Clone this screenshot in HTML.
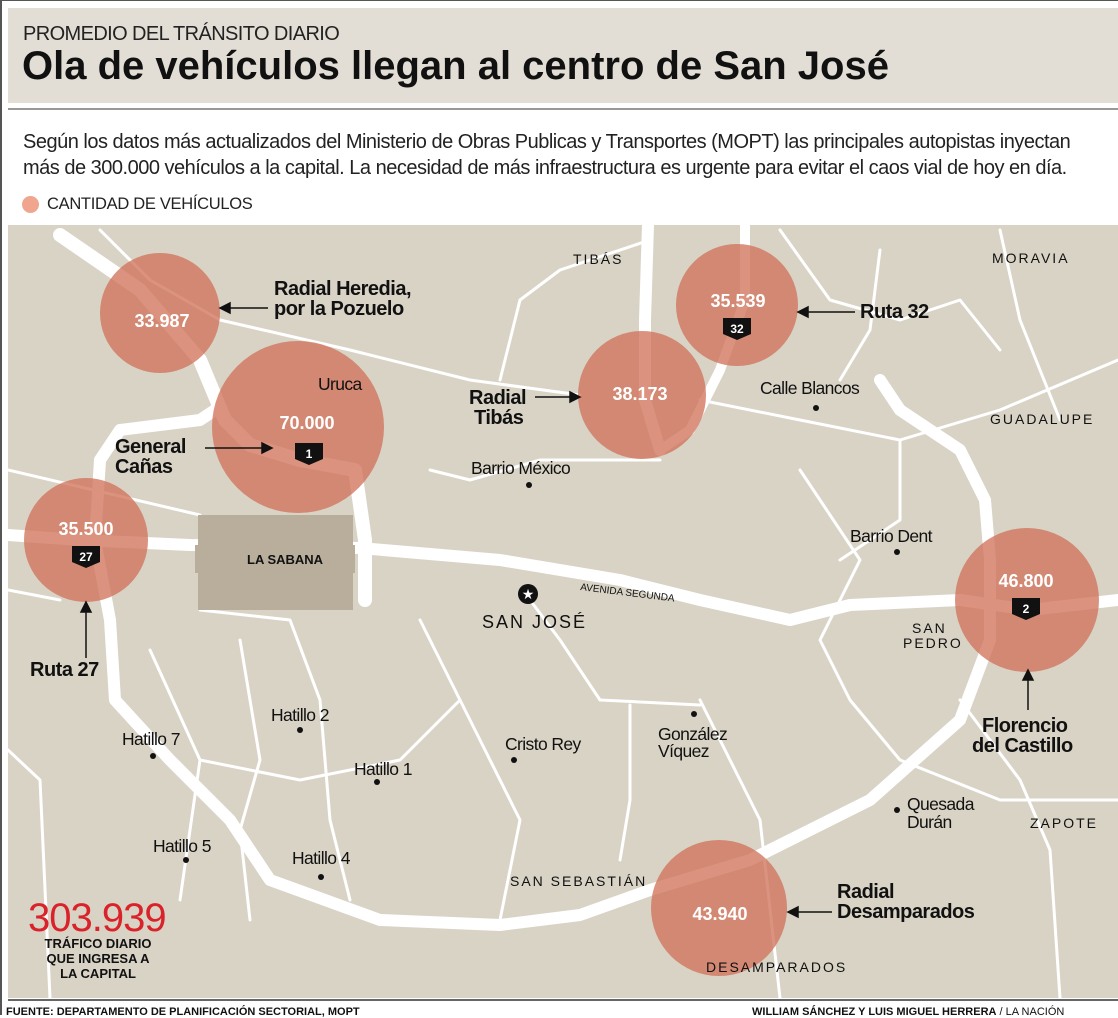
<!DOCTYPE html>
<html><head><meta charset="utf-8"><style>
html,body{margin:0;padding:0;background:#fff;}
body{width:1118px;height:1015px;position:relative;overflow:hidden;font-family:"Liberation Sans",sans-serif;}
.t{position:absolute;white-space:nowrap;}
</style></head><body>
<div style="position:absolute;left:0;top:0;width:1118px;height:1px;background:#555"></div>
<div style="position:absolute;left:0;top:0;width:2px;height:1015px;background:#555"></div>
<div style="position:absolute;left:8px;top:8px;width:1110px;height:95px;background:#e3ded5"></div>
<div style="position:absolute;left:8px;top:108px;width:1110px;height:2px;background:#999"></div>
<div class="t" style="left:23px;top:23px;font-size:20px;color:#222;letter-spacing:-0.6px">PROMEDIO DEL TRÁNSITO DIARIO</div>
<div class="t" style="left:22px;top:44px;font-size:40px;font-weight:bold;color:#111;letter-spacing:0px">Ola de vehículos llegan al centro de San José</div>
<div class="t" style="left:23px;top:129px;font-size:20px;color:#222;line-height:26px;letter-spacing:-0.5px">Según los datos más actualizados del Ministerio de Obras Publicas y Transportes (MOPT) las principales autopistas inyectan<br>más de 300.000 vehículos a la capital. La necesidad de más infraestructura es urgente para evitar el caos vial de hoy en día.</div>
<div style="position:absolute;left:22px;top:196px;width:17px;height:17px;border-radius:50%;background:#f0a58e"></div>
<div class="t" style="left:47px;top:195px;font-size:16.5px;color:#222;letter-spacing:-0.3px">CANTIDAD DE VEHÍCULOS</div>
<svg style="position:absolute;left:8px;top:225px" width="1110" height="773" viewBox="8 225 1110 773">
<rect x="8" y="225" width="1110" height="773" fill="#d9d3c6"/>
<g fill="none" stroke="#fff" stroke-width="3" stroke-linecap="round" stroke-linejoin="round">
<path d="M8 470 L200 515"/><path d="M100 230 L150 280 L220 320 L350 350 L470 380 L580 395"/>
<path d="M520 300 L560 270 L650 240"/><path d="M520 300 L500 380"/><path d="M700 400 L800 420 L900 440 L1000 410 L1118 360"/>
<path d="M780 230 L830 300 L900 320 L960 300 L1000 350"/><path d="M900 440 L900 520 L840 560"/>
<path d="M800 470 L860 560 L820 640 L850 700 L900 760 L1000 800 L1118 800"/>
<path d="M1000 230 L1020 320 L1060 420"/><path d="M960 700 L1020 780 L1050 850 L1060 998"/>
<path d="M200 610 L290 620 L320 700 L330 820 L350 900"/><path d="M240 640 L260 760 L240 830 L250 920"/>
<path d="M420 620 L460 700 L520 820 L500 920"/><path d="M630 705 L630 800 L620 860"/>
<path d="M700 700 L760 820 L780 998"/><path d="M530 600 L560 640 L600 700 L700 705"/>
<path d="M8 750 L40 780 L50 998"/><path d="M150 650 L200 760 L180 900"/>
<path d="M430 470 L470 480 L540 460 L660 460"/><path d="M880 250 L870 330 L840 380"/>
<path d="M200 760 L300 780 L400 760 L460 700"/><path d="M8 590 L60 600"/>
</g>
<g fill="none" stroke="#fff" stroke-linecap="round" stroke-linejoin="round">
<path stroke-width="14" d="M60 235 L140 290 L200 360 L225 420 L250 445 L300 460 L355 470 L365 540 L365 600"/>
<path stroke-width="12" d="M8 535 L80 540 L190 545 L360 548 L500 560 L620 580 L700 600 L790 620 L850 605 L960 600 L1030 610 L1118 600"/>
<path stroke-width="12" d="M100 460 L120 430 L200 420 L215 410"/>
<path stroke-width="12" d="M100 460 L95 540 L110 620 L115 700 L170 760 L230 820 L270 880 L380 920 L500 925 L580 915 L650 890 L750 860 L870 800 L960 720 L990 640 L990 560 L985 500 L960 450 L900 410 L880 380"/>
<path stroke-width="12" d="M648 225 L645 320 L645 400 L660 450"/>
<path stroke-width="10" d="M745 225 L745 300 L720 370 L690 430 L660 450"/>
<path stroke-width="8" d="M80 540 L200 545"/>
</g>
<rect x="198" y="515" width="155" height="95" fill="#b9ae9c"/>
<rect x="195" y="545" width="160" height="28" fill="#b9ae9c"/>
<g fill="#cf6f55" fill-opacity="0.75">
<circle cx="160" cy="313" r="60"/><circle cx="298" cy="427" r="86"/><circle cx="86" cy="540" r="62"/>
<circle cx="642" cy="395" r="64"/><circle cx="737" cy="305" r="61"/><circle cx="1027" cy="600" r="72"/>
<circle cx="719" cy="908" r="68"/>
</g>
<g font-family="Liberation Sans,sans-serif" font-weight="bold" fill="#fff" font-size="18" text-anchor="middle">
<text x="162" y="327">33.987</text><text x="307" y="429">70.000</text><text x="86" y="535">35.500</text>
<text x="640" y="400">38.173</text><text x="738" y="307">35.539</text><text x="1026" y="587">46.800</text><text x="720" y="920">43.940</text>
</g>
<g fill="#111" font-family="Liberation Sans,sans-serif" font-weight="bold" font-size="12" text-anchor="middle">
<path d="M295 443h28v16l-14 6l-14-6z"/><path d="M72 546h28v16l-14 6l-14-6z"/><path d="M723 318h28v16l-14 6l-14-6z"/><path d="M1012 598h28v16l-14 6l-14-6z"/>
<text x="309" y="458" fill="#fff">1</text><text x="86" y="561" fill="#fff">27</text><text x="737" y="333" fill="#fff">32</text><text x="1026" y="613" fill="#fff">2</text>
</g>
<g stroke="#111" stroke-width="1.5" fill="#111">
<line x1="228" y1="308" x2="268" y2="308"/><path d="M220 308l10-5v10z"/>
<line x1="205" y1="448" x2="262" y2="448"/><path d="M272 448l-10-5v10z"/>
<line x1="86" y1="658" x2="86" y2="612"/><path d="M86 602l-5 10h10z"/>
<line x1="535" y1="397" x2="570" y2="397"/><path d="M580 397l-10-5v10z"/>
<line x1="808" y1="312" x2="855" y2="312"/><path d="M798 312l10-5v10z"/>
<line x1="1028" y1="710" x2="1028" y2="680"/><path d="M1028 670l-5 10h10z"/>
<line x1="798" y1="912" x2="832" y2="912"/><path d="M788 912l10-5v10z"/>
</g>
<g fill="#111"><circle cx="529" cy="485" r="3"/><circle cx="816" cy="408" r="3"/><circle cx="897" cy="552" r="3"/><circle cx="300" cy="730" r="3"/><circle cx="153" cy="756" r="3"/><circle cx="377" cy="782" r="3"/><circle cx="514" cy="760" r="3"/><circle cx="694" cy="714" r="3"/><circle cx="897" cy="810" r="3"/><circle cx="186" cy="860" r="3"/><circle cx="321" cy="877" r="3"/>
<circle cx="528" cy="594" r="10"/></g>
<text x="528" y="599" font-size="14" fill="#fff" text-anchor="middle">★</text>
<g font-family="Liberation Sans,sans-serif" fill="#111" font-size="17.5" letter-spacing="-0.6">
<text x="318" y="390">Uruca</text><text x="471" y="474">Barrio México</text><text x="760" y="394">Calle Blancos</text><text x="850" y="542">Barrio Dent</text>
<text x="271" y="721">Hatillo 2</text><text x="122" y="745">Hatillo 7</text><text x="354" y="775">Hatillo 1</text><text x="505" y="750">Cristo Rey</text>
<text x="658" y="740">González</text><text x="658" y="757">Víquez</text><text x="907" y="810">Quesada</text><text x="907" y="828">Durán</text>
<text x="153" y="852">Hatillo 5</text><text x="292" y="864">Hatillo 4</text>
</g>
<g font-family="Liberation Sans,sans-serif" fill="#111" font-size="14" letter-spacing="2">
<text x="573" y="264">TIBÁS</text><text x="992" y="263">MORAVIA</text><text x="990" y="424">GUADALUPE</text>
<text x="912" y="633">SAN</text><text x="903" y="648">PEDRO</text><text x="1030" y="828">ZAPOTE</text>
<text x="510" y="886">SAN SEBASTIÁN</text><text x="706" y="972">DESAMPARADOS</text>
<text x="482" y="628" font-size="18">SAN JOSÉ</text>
</g>
<text x="247" y="564" font-family="Liberation Sans,sans-serif" font-weight="bold" font-size="13" fill="#111">LA SABANA</text>
<text x="580" y="590" font-family="Liberation Sans,sans-serif" font-size="10" fill="#111" transform="rotate(7 580 590)">AVENIDA SEGUNDA</text>
<g font-family="Liberation Sans,sans-serif" font-weight="bold" fill="#111" font-size="20" letter-spacing="-0.5">
<text x="274" y="295">Radial Heredia,</text><text x="274" y="315">por la Pozuelo</text>
<text x="115" y="453">General</text><text x="115" y="473">Cañas</text>
<text x="30" y="676">Ruta 27</text>
<text x="469" y="404">Radial</text><text x="474" y="424">Tibás</text>
<text x="860" y="318">Ruta 32</text>
<text x="982" y="732">Florencio</text><text x="972" y="752">del Castillo</text>
<text x="837" y="898">Radial</text><text x="837" y="918">Desamparados</text>
</g>
<text x="28" y="931" font-family="Liberation Sans,sans-serif" font-size="40" fill="#d9222a" letter-spacing="-1">303.939</text>
<g font-family="Liberation Sans,sans-serif" font-weight="bold" font-size="13" fill="#111" text-anchor="middle">
<text x="98" y="948">TRÁFICO DIARIO</text><text x="98" y="963">QUE INGRESA A</text><text x="98" y="978">LA CAPITAL</text>
</g>
</svg>
<div style="position:absolute;left:8px;top:999px;width:1110px;height:2px;background:#666"></div>
<div class="t" style="left:6px;top:1006px;font-size:11px;color:#111"><b>FUENTE: DEPARTAMENTO DE PLANIFICACIÓN SECTORIAL, MOPT</b></div>
<div class="t" style="left:752px;top:1006px;font-size:11px;color:#111"><b>WILLIAM SÁNCHEZ Y LUIS MIGUEL HERRERA</b> / LA NACIÓN</div>
</body></html>
